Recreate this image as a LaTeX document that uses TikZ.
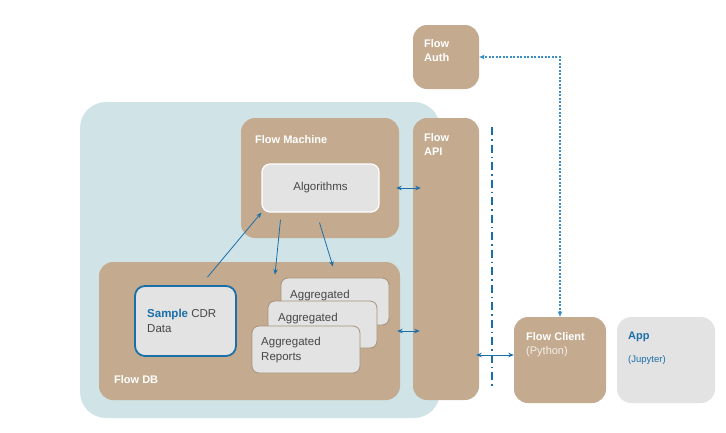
\documentclass[tikz,border=0pt]{standalone}
\usepackage{fontspec}
\setmainfont{Liberation Sans}
\usetikzlibrary{arrows.meta}

\definecolor{flowtan}{HTML}{C4AB8F}
\definecolor{dbblue}{HTML}{D0E3E7}
\definecolor{boxgray}{HTML}{E3E3E3}
\definecolor{linkblue}{HTML}{1B6FA8}
\definecolor{dotblue}{HTML}{3A8FC6}
\definecolor{textgray}{HTML}{474747}

\begin{document}
\begin{tikzpicture}[x=1pt, y=-1pt,
    zone/.style={fill=dbblue, rounded corners=26pt, inner sep=0pt},
    tanbox/.style={fill=flowtan, rounded corners=14pt, inner sep=0pt},
    graybox/.style={draw=white, line width=1.2pt, fill=boxgray, rounded corners=8pt, inner sep=0pt},
    aggbox/.style={draw=flowtan!85!black, line width=0.8pt, fill=boxgray, rounded corners=7pt, inner sep=0pt},
    wlabel/.style={text=white, font=\bfseries\fontsize{11}{14}\selectfont, align=left, anchor=north west, inner sep=0pt},
    glabel/.style={text=textgray, font=\fontsize{11.5}{15}\selectfont, align=left, anchor=north west, inner sep=0pt},
    link/.style={-{Stealth[length=5.5pt,width=4.5pt]}, linkblue, line width=0.8pt},
    dlink/.style={{Stealth[length=5.5pt,width=4.5pt]}-{Stealth[length=5.5pt,width=4.5pt]}, linkblue, line width=0.8pt}]
    \useasboundingbox (0,0) rectangle (726,432);

    % Boxes
    \node[zone, minimum width=360pt, minimum height=316pt] (dbzone) at (260,260) {};
    \node[tanbox, minimum width=158pt, minimum height=120pt] (machine) at (320,178) {};
    \node[graybox, minimum width=117pt, minimum height=48pt, text=textgray,
          font=\fontsize{11.5}{14}\selectfont] (algo) at (320.5,188) {Algorithms};
    \node[tanbox, minimum width=66pt, minimum height=282pt] (api) at (446,259) {};
    \node[tanbox, minimum width=66pt, minimum height=64pt] (auth) at (446,57) {};
    \node[tanbox, minimum width=301pt, minimum height=138pt] (db) at (249.5,331) {};
    \node[tanbox, minimum width=92pt, minimum height=86pt] (client) at (560,360) {};
    \node[fill=boxgray, rounded corners=14pt, minimum width=98pt, minimum height=86pt] (app) at (666,360) {};

    % Data inside Flow DB
    \node[draw=linkblue, line width=1.8pt, fill=boxgray, rounded corners=10pt,
          minimum width=101pt, minimum height=70pt] (cdr) at (185.5,321) {};
    \node[glabel] (cdrlbl) at (147,309) {\textcolor{linkblue}{\bfseries Sample} CDR\\Data};
    \node[aggbox, minimum width=108pt, minimum height=47pt] (aggA) at (335,301.5) {};
    \node[glabel] (aggAlbl) at (290,290) {Aggregated};
    \node[aggbox, minimum width=109pt, minimum height=47pt] (aggB) at (322.5,324.5) {};
    \node[glabel] (aggBlbl) at (278,313) {Aggregated};
    \node[aggbox, minimum width=108pt, minimum height=47pt] (aggC) at (306,349.5) {};
    \node[glabel] (aggClbl) at (261,337) {Aggregated\\Reports};

    % Labels
    \node[wlabel] (machinelbl) at (255,135) {Flow Machine};
    \node[wlabel] (apilbl) at (424,133) {Flow\\API};
    \node[wlabel] (authlbl) at (424,39) {Flow\\Auth};
    \node[wlabel] (dblbl) at (114,375) {Flow DB};
    \node[wlabel] (clientlbl) at (526,332) {Flow Client\\{\mdseries\color{white!80!flowtan}(Python)}};
    \node[text=linkblue, font=\bfseries\fontsize{11}{14}\selectfont, anchor=north west, inner sep=0pt] (applbl) at (628,332) {App};
    \node[text=linkblue, font=\fontsize{9.5}{11}\selectfont, anchor=north west, inner sep=0pt] (jupyterlbl) at (628,355) {(Jupyter)};

    % Links
    \draw[link] ([xshift=22pt,yshift=8pt]cdr.north) -- (algo.south west);
    \draw[link] ([xshift=-40pt,yshift=-7pt]algo.south) -- ([xshift=-60pt,yshift=3pt]aggA.north);
    \draw[link] ([xshift=-1pt,yshift=-10pt]algo.south) -- ([xshift=-2pt,yshift=11pt]aggA.north);
    \draw[dlink] ([xshift=-3pt]algo.east -| machine.east) -- ([xshift=8pt]algo.east -| api.west);
    \draw[dlink] ([xshift=-3pt]db.east) -- ([xshift=7pt]db.east -| api.west);
    \draw[dlink] ([xshift=-3pt,yshift=5pt]client.west -| api.east) -- ([yshift=5pt]client.west);
    \draw[dlink, dotblue, line width=1.3pt, dash pattern=on 2pt off 1.5pt] (client.north) |- (auth.east);

    % Separator
    \coordinate (septop) at (492,127);
    \coordinate (sepbot) at (492,387);
    \draw[linkblue, line width=1.8pt, dash pattern=on 8pt off 4pt on 1.5pt off 4pt] (septop) -- (sepbot);
\end{tikzpicture}
\end{document}
